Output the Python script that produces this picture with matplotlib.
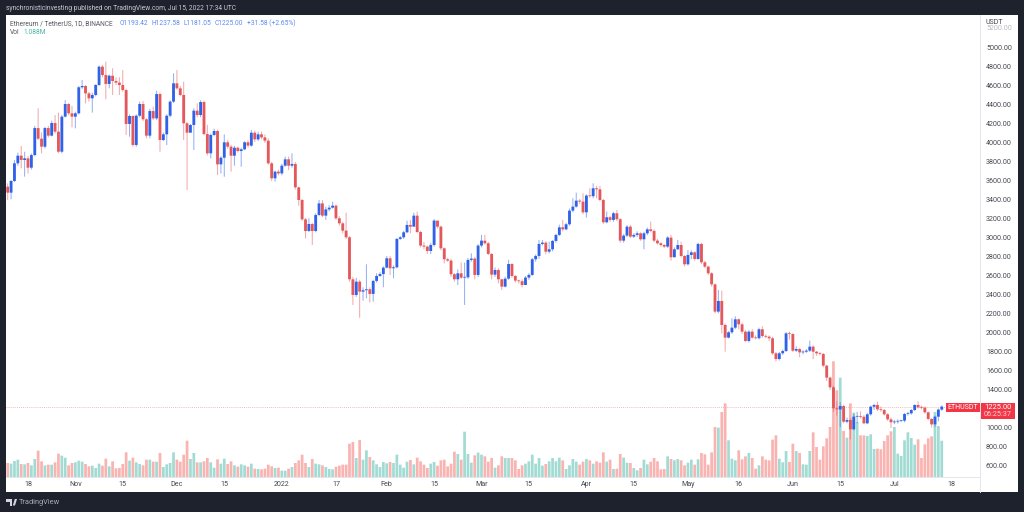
import numpy as np
import pandas as pd
import matplotlib
matplotlib.use("Agg")
import matplotlib.pyplot as plt
from matplotlib.patches import Rectangle, Polygon

first_open = 3540
closes = [
3477,3600,3786,3866,3821,3838,3740,3873,4157,4045,
3961,4157,4077,4210,4119,3908,4277,4410,4312,4277,
4312,4586,4600,4522,4470,4505,4610,4803,4715,4621,
4708,4652,4635,4610,4557,4200,4284,3979,4287,4410,
4249,4077,4336,4259,4515,4031,4091,4287,4435,4628,
4575,4505,4207,4108,4189,4340,4294,4431,4094,3891,
4084,4126,3775,3845,4007,3961,3866,3950,3915,3933,
4007,3972,4108,4038,4091,4059,4024,3786,3628,3698,
3680,3761,3828,3761,3779,3533,3400,3196,3073,3147,
3073,3242,3364,3235,3301,3319,3340,3207,3154,3077,
3007,2565,2400,2540,2435,2450,2460,2411,2548,2600,
2620,2688,2786,2681,2691,2990,3007,3060,3137,3119,
3235,3063,2920,2909,2863,2926,3183,3119,2891,2776,
2762,2618,2565,2628,2583,2586,2769,2783,2611,2920,
2972,2944,2832,2614,2663,2565,2488,2572,2726,2600,
2551,2545,2505,2583,2611,2776,2811,2937,2951,2856,
2881,2969,3032,3112,3091,3144,3288,3330,3393,3383,
3270,3446,3440,3523,3512,3400,3165,3218,3190,3260,
3197,2972,3025,3119,3014,3032,3049,2986,3049,3091,
3074,2972,2944,2926,2909,3004,2797,2881,2926,2810,
2723,2821,2849,2779,2937,2744,2698,2628,2512,2225,
2337,2084,1951,2007,2056,2144,2091,2014,1916,2014,
1951,1945,2039,1968,1961,1944,1786,1726,1786,1810,
1996,1989,1814,1831,1796,1803,1814,1856,1803,1786,
1779,1656,1530,1428,1207,1195,1231,1066,1084,986,
1119,1125,1118,1049,1144,1224,1242,1196,1189,1144,
1091,1060,1067,1074,1077,1147,1154,1189,1242,1217,
1214,1165,1095,1038,1119,1193.42,1225]
highs = [
3575,3610,3820,3898,3968,3908,3860,3890,4180,4365,
4110,4170,4180,4235,4294,4319,4295,4452,4420,4389,
4330,4600,4663,4610,4540,4530,4620,4815,4821,4856,
4720,4786,4690,4691,4768,4570,4300,4290,4300,4435,
4442,4260,4360,4382,4550,4530,4110,4300,4450,4733,
4768,4600,4645,4220,4200,4365,4417,4450,4445,4190,
4100,4150,4140,3860,4091,4030,3980,3970,3960,3950,
4020,4030,4136,4130,4119,4119,4090,4050,3800,3710,
3720,3780,3856,3856,3891,3800,3540,3410,3210,3207,
3160,3260,3400,3400,3330,3345,3382,3350,3230,3170,
3267,3020,2590,2580,2560,2480,2723,2480,2560,2628,
2640,2700,2810,2810,2710,3000,3020,3075,3183,3190,
3267,3277,3075,2960,2920,2950,3200,3172,3130,2900,
2790,2780,2630,2670,2740,2740,2790,2839,2800,2935,
3032,3032,2960,2840,2690,2680,2570,2593,2769,2735,
2610,2560,2565,2600,2630,2790,2826,2979,2979,2965,
2962,2979,3045,3140,3190,3160,3310,3418,3477,3410,
3470,3460,3523,3576,3548,3548,3410,3277,3230,3275,
3295,3210,3040,3137,3137,3050,3070,3060,3065,3110,
3172,3090,2990,2955,2935,3020,3032,2900,2979,2960,
2820,2874,2870,2860,2951,2951,2760,2710,2640,2520,
2453,2446,2100,2020,2154,2175,2154,2110,2030,2030,
2040,1975,2055,2070,1985,1975,1960,1800,1800,1825,
2010,2015,1995,1860,1840,1820,1830,1919,1870,1810,
1800,1790,1665,1540,1445,1280,1270,1245,1110,1105,
1150,1170,1175,1135,1160,1235,1255,1277,1225,1200,
1155,1110,1085,1090,1085,1160,1170,1200,1250,1280,
1235,1225,1175,1105,1130,1205,1237.58]
lows = [
3400,3407,3590,3760,3733,3645,3680,3720,3860,4030,
3891,3943,4060,4070,4100,3890,3891,4270,4290,4165,
4154,4300,4570,4417,4435,4319,4490,4600,4690,4459,
4575,4505,4610,4505,4540,4084,4066,3961,3960,4270,
4230,4049,4049,4240,4240,3908,4020,3979,4270,4420,
4560,4490,4031,3505,4119,3926,4270,4270,4080,3870,
3838,4070,3663,3680,3645,3940,3698,3761,3900,3750,
3925,3950,3960,4010,4020,4040,4000,3770,3600,3592,
3660,3660,3750,3715,3740,3510,3340,3180,2996,3066,
2926,3060,3230,3220,3189,3280,3310,3190,3130,3050,
2990,2540,2295,2380,2161,2340,2365,2320,2330,2530,
2590,2481,2680,2611,2576,2680,2980,2990,3050,3049,
3119,3050,2900,2880,2832,2832,2910,3100,2870,2733,
2750,2590,2540,2505,2570,2295,2570,2750,2565,2590,
2900,2930,2820,2565,2590,2523,2453,2480,2560,2580,
2530,2520,2480,2505,2560,2600,2750,2780,2920,2830,
2839,2860,2950,3020,3070,3080,3130,3270,3320,3360,
3250,3214,3425,3418,3418,3385,3150,3155,3170,3172,
3180,2950,2951,3010,3000,3000,3010,2970,2881,3030,
3060,2955,2930,2910,2895,2895,2762,2797,2874,2795,
2700,2710,2775,2760,2770,2725,2681,2610,2488,2207,
2207,1996,1803,1944,1990,2040,2040,1990,1905,1900,
1940,1930,1930,1950,1945,1915,1770,1700,1710,1770,
1800,1930,1800,1800,1745,1775,1790,1800,1725,1760,
1765,1640,1495,1400,1170,1130,1010,1050,1050,880,
975,1050,1100,1040,1040,1130,1190,1180,1170,1130,
1075,1000,1040,1045,1060,1060,1130,1140,1180,1205,
1195,1150,1080,1005,1010,1070,1181.05]
volumes_k = [
420,400,480,520,390,380,420,350,540,790,
470,350,370,370,440,700,640,580,350,420,
440,490,460,390,320,340,270,400,340,550,
320,470,260,270,390,740,490,580,440,390,
350,520,520,460,460,720,300,380,420,740,
520,460,670,1090,540,720,440,440,470,570,
440,280,530,400,550,390,470,350,310,380,
350,310,400,250,240,230,250,370,320,270,
280,190,190,250,300,420,500,670,420,300,
540,400,380,350,300,240,230,310,340,370,
370,1000,1050,570,1110,520,800,600,500,380,
300,450,410,450,420,670,370,280,460,510,
380,580,470,370,270,400,450,340,500,520,
320,400,760,690,520,1360,690,430,650,730,
670,620,460,570,280,350,620,570,570,570,
500,240,350,400,470,670,400,570,340,390,
470,570,470,580,500,240,350,540,460,370,
460,540,500,400,470,430,740,460,520,240,
250,690,580,430,420,270,200,270,520,380,
460,570,470,230,240,620,540,500,540,500,
350,430,520,370,530,720,680,370,740,1500,
1480,1950,2210,1100,550,500,800,530,620,720,
570,250,350,620,520,500,1120,1250,550,440,
780,450,1000,780,720,380,370,780,1340,900,
520,920,1160,1500,3470,2600,2980,1380,1180,2210,
1930,1650,1250,1250,1230,1280,840,850,830,1080,
1250,1370,1500,700,630,1100,1340,1170,970,1130,
570,980,1160,1220,1950,1530,1088]
assert len(closes) == len(highs) == len(lows) == len(volumes_k) == 277

start_date = "2021-10-12"
tick_dates = ["2021-10-18","2021-11-01","2021-11-15","2021-12-01","2021-12-15","2022-01-01",
              "2022-01-17","2022-02-01","2022-02-15","2022-03-01","2022-03-15","2022-04-01",
              "2022-04-15","2022-05-01","2022-05-16","2022-06-01","2022-06-15","2022-07-01","2022-07-18"]
tick_labels = ["18","Nov","15","Dec","15","2022","17","Feb","15","Mar","15","Apr","15","May","16","Jun","15","Jul","18"]
price_ticks = [600,800,1000,1400,1600,1800,2000,2200,2400,2600,2800,3000,3200,3400,3600,3800,4000,4200,4400,4600,4800,5000]

W, H = 1024, 512
BG = "#1e222d"; UP = "#2f62e8"; DOWN = "#e4575a"
VUP = "#a2dbd3"; VDOWN = "#f9b3b0"; TXT = "#44474f"; LINE = "#e4e6ec"; LABEL = "#f23645"
FONT = ["Roboto", "DejaVu Sans"]
plt.rcParams["font.family"] = FONT

fig = plt.figure(figsize=(W/100, H/100), dpi=100, facecolor=BG)
def fx(x): return x / W
def fy(y): return 1 - y / H
def frect(x0, y0, x1, y1, **kw):
    fig.patches.append(Rectangle((fx(x0), fy(y1)), fx(x1-x0), (y1-y0)/H, transform=fig.transFigure, **kw))

frect(6, 15, 1018, 492, facecolor="white", edgecolor="none", zorder=-5)

ax = fig.add_axes([fx(6), fy(477), fx(980-6), (477-15)/H])
ax.set_zorder(2); ax.patch.set_alpha(0)
vax = ax.twinx()
vax.set_zorder(1); vax.patch.set_alpha(0)

x = pd.date_range(start_date, periods=len(closes), freq="D")
closes = np.array(closes, float); highs = np.array(highs, float); lows = np.array(lows, float)
opens = np.r_[first_open, closes[:-1]]
up = closes >= opens
vols = np.array(volumes_k, float)

for b in vax.bar(x, vols, width=0.8, color=[VUP if u else VDOWN for u in up], linewidth=0):
    b.set_snap(False)
vax.set_ylim(0, 13860)
vax.axis("off")

cols = [UP if u else DOWN for u in up]
wicks = ax.vlines(x, lows, highs, colors=cols, linewidth=0.75, alpha=0.5, zorder=2)
wicks.set_snap(False)
bottoms = np.minimum(opens, closes)
heights = np.maximum(np.abs(closes - opens), 8)
for b in ax.bar(x, heights, bottom=bottoms, width=0.84, color=cols, linewidth=0, zorder=3):
    b.set_snap(False)
ax.axhline(closes[-1], color="#f2a0a8", linestyle=(0, (1, 1.5)), linewidth=0.6, zorder=1)

x0 = pd.Timestamp(start_date)
ax.set_xlim(x0 - pd.Timedelta(hours=12), x0 + pd.Timedelta(days=287.3))
ax.set_ylim(484, 5347)

ax.set_xticks(pd.to_datetime(tick_dates))
ax.set_xticklabels(tick_labels, fontsize=5.1, color=TXT)
ax.yaxis.tick_right()
ax.set_yticks(price_ticks)
ax.set_yticklabels([f"{p:.2f}" for p in price_ticks], fontsize=5.1, color=TXT)
ax.tick_params(axis="both", length=0)
ax.tick_params(axis="y", pad=4.3)
ax.tick_params(axis="x", pad=3)
for s in ["top", "left"]:
    ax.spines[s].set_visible(False)
for s in ["right", "bottom"]:
    ax.spines[s].set_color(LINE); ax.spines[s].set_linewidth(0.7)

# axis-strip extras
fig.add_artist(plt.Line2D([fx(980), fx(980)], [fy(477), fy(492)], color=LINE, linewidth=0.7))
ax.text(1.0062, (5200-484)/(5347-484), "5200.00", transform=ax.transAxes, fontsize=5.1,
        color="#b9bbc2", ha="left", va="center")
fig.text(fx(986), fy(22), "USDT", fontsize=5.0, color=TXT, ha="left", va="center")

# last price labels
frect(945.7, 402.7, 980, 411.7, facecolor=LABEL, edgecolor="none", zorder=5)
frect(980.5, 402.7, 1015, 419.3, facecolor=LABEL, edgecolor="none", zorder=5)
fig.text(fx(963), fy(407.3), "ETHUSDT", fontsize=5.0, color="white", ha="center", va="center", zorder=6)
fig.text(fx(997.5), fy(407.3), "1225.00", fontsize=5.4, color="white", ha="center", va="center", zorder=6)
fig.text(fx(997.5), fy(415), "06:25:37", fontsize=5.2, color="#fbd5d8", ha="center", va="center", zorder=6)

# header and legend
fig.text(fx(5.5), fy(8.3), "synchronisticinvesting published on TradingView.com, Jul 15, 2022 17:34 UTC",
         fontsize=4.8, color="#c9ccd4", ha="left", va="center")
fig.text(fx(10), fy(23.2), "Ethereum / TetherUS, 1D, BINANCE", fontsize=4.8, color="#55585f", ha="left", va="center")
for xp, s in [(120, "O1193.42"), (152, "H1237.58"), (184, "L1181.05"), (215, "C1225.00"), (247, "+31.58 (+2.65%)")]:
    fig.text(fx(xp), fy(23.2), s, fontsize=4.8, color="#5b8af0", ha="left", va="center")
fig.text(fx(10), fy(32.7), "Vol", fontsize=4.8, color="#55585f", ha="left", va="center")
fig.text(fx(23.5), fy(32.7), "1.088M", fontsize=4.8, color="#45b5a5", ha="left", va="center")

# footer logo and name
for pts in [[(6, 499), (12, 499), (12, 505.5), (9.5, 505.5), (9.5, 501.5), (6, 501.5)],
            [(12.8, 505.5), (14.8, 499), (17, 499), (15, 505.5)]]:
    fig.add_artist(Polygon([(fx(a), fy(b)) for a, b in pts], closed=True, transform=fig.transFigure,
                           facecolor="#d4d6dc", edgecolor="none"))
fig.text(fx(19), fy(502.3), "TradingView", fontsize=5.3, color="#a9acb4", ha="left", va="center")

fig.savefig("out.png", dpi=100, facecolor=BG)
